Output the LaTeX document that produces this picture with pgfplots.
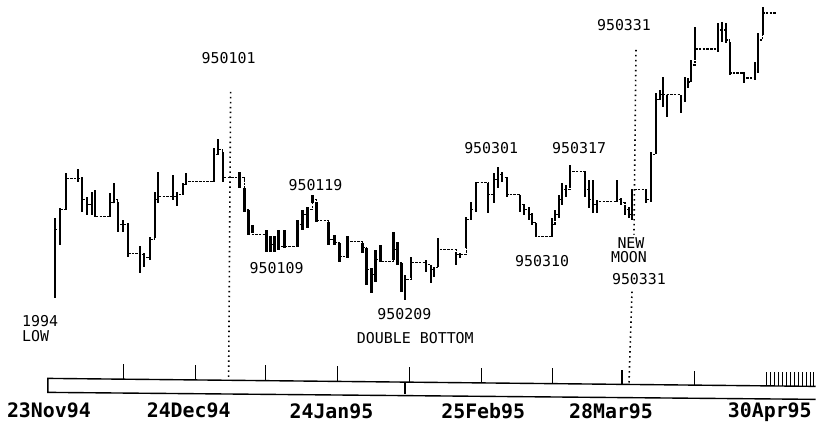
\documentclass[border=0pt]{standalone}
\usepackage{fontspec}
\setmonofont{DejaVu Sans Mono}
\usepackage{pgfplots}
\usepackage{pgfplotstable}
\pgfplotsset{compat=1.18}
\pgfplotstableread{
x h l c
55 218 298 230
60 208 245 210
66 173 210 179
78 169 182 179
82 177 212 200
87 197 215 205
92 192 215 200
95 190 217 217
110 193 217 203
114 183 203 200
118 202 232 225
123 220 232 225
128 223 257 254
140 246 273 255
144 253 267 258
150 237 260 240
155 192 238 200
158 172 203 197
173 175 200 197
177 192 206 195
183 183 195 185
186 173 185 182
214 148 182 155
218 139 155 150
223 152 182 178
240 172 188 178
245 188 212 210
249 210 235 235
253 225 233 235
267 230 252 240
271 236 252 245
275 236 252 240
279 230 250 247
285 230 248 247
298 220 247 225
303 210 230 215
308 207 228 210
313 195 203 200
317 202 222 221
329 222 245 240
335 235 245 243
340 243 262 257
348 236 258 242
363 243 253 248
367 248 285 270
372 268 293 275
376 250 282 260
381 245 262 262
394 232 260 250
398 242 265 263
402 263 292 285
406 275 300 280
412 257 278 263
427 260 272 265
432 265 283 270
435 267 277 268
439 238 267 250
457 252 265 255
461 253 258 255
467 217 248 220
472 202 220 210
477 182 212 183
489 183 213 195
495 173 203 180
499 167 188 175
503 172 182 178
508 177 197 195
521 195 212 205
525 205 215 210
530 207 220 215
533 213 225 223
537 223 237 237
553 218 237 225
556 210 218 215
560 195 218 200
563 183 205 190
567 185 197 190
571 165 188 172
586 172 197 190
590 180 208 200
594 180 213 205
598 200 213 202
618 180 202 200
622 198 205 203
626 205 215 210
630 207 218 215
633 190 220 190
647 190 203 200
652 152 202 155
657 93 153 100
661 90 100 95
664 77 107 95
668 95 117 95
682 95 113 100
686 77 102 85
689 78 88 82
692 60 82 65
696 27 60 49
719 23 52 30
723 22 42 30
727 23 43 40
731 42 75 73
745 72 83 78
756 62 80 70
759 33 73 40
764 7 35 13
777 13 13 13
}\bars
\pgfplotstableread{
x h l
124 365 380
196 366 381
266 366 381
338 367 382
410 368 383
482 369 384
553 369 384
623 371 385
696 372 386
768 373 387
772 373 387
776 373 387
780 373 387
784 373 387
788 373 387
792 373 387
796 373 387
800 373 387
804 373 387
808 373 387
812 373 387
815 373 387
}\ticksdata
\begin{document}
\begin{tikzpicture}
\begin{axis}[
  width=817bp, height=429bp, scale only axis,
  xmin=0, xmax=817, ymin=0, ymax=429, y dir=reverse,
  axis line style={draw=none}, ticks=none, clip=false,
  unbounded coords=jump,
]
% price bars (high-low)
\addplot[draw=none, mark=none, error bars/.cd, y dir=both, y explicit, error mark=none,
  error bar style={draw=black, solid, line width=2.3pt}]
  table[x=x, y expr={(\thisrow{h}+\thisrow{l})/2}, y error expr={(\thisrow{l}-\thisrow{h})/2}] {\bars};
% close connectors
\addplot[const plot mark left, black, line width=1.3pt, dash pattern=on 2.5pt off 1.2pt]
  table[x=x, y=c] {\bars};
% dotted event lines
\addplot[black, line width=1.6pt, dash pattern=on 1.5pt off 3.5pt] coordinates {(231,92) (229,380)};
\addplot[black, line width=1.6pt, dash pattern=on 1.5pt off 3.5pt] coordinates {(637,50) (635,235) (635,nan) (633,292) (630,384)};
% date strip
\addplot[black, line width=1.4pt] coordinates {(817,387) (48,379) (48,393) (817,400)};
\addplot[black, line width=2.2pt] coordinates {(406,383) (406,395)};
\addplot[draw=none, mark=none, error bars/.cd, y dir=both, y explicit, error mark=none,
  error bar style={draw=black, solid, line width=1.2pt}]
  table[x=x, y expr={(\thisrow{h}+\thisrow{l})/2}, y error expr={(\thisrow{l}-\thisrow{h})/2}] {\ticksdata};
% labels
\begin{scope}[every node/.style={font=\fontsize{15}{16}\selectfont\ttfamily, inner sep=0pt}]
\node at (axis cs:229,58) {950101};
\node at (axis cs:625,25) {950331};
\node at (axis cs:316,185) {950119};
\node at (axis cs:277,268) {950109};
\node at (axis cs:405,315) {950209};
\node at (axis cs:416,339) {DOUBLE BOTTOM};
\node at (axis cs:492,148) {950301};
\node at (axis cs:580,148) {950317};
\node at (axis cs:543,261) {950310};
\node at (axis cs:632,243) {NEW};
\node at (axis cs:630,257) {MOON};
\node at (axis cs:640,280) {950331};
\node[anchor=west] at (axis cs:22,322) {1994};
\node[anchor=west] at (axis cs:22,337) {LOW};
\end{scope}
\begin{scope}[every node/.style={font=\fontsize{20}{22}\selectfont\ttfamily\bfseries, inner sep=0pt}]
\node at (axis cs:49,411) {23Nov94};
\node at (axis cs:189,411) {24Dec94};
\node at (axis cs:332,412) {24Jan95};
\node at (axis cs:484,412) {25Feb95};
\node at (axis cs:612,412) {28Mar95};
\node at (axis cs:771,413) {30Apr95};
\end{scope}
\end{axis}
\end{tikzpicture}
\end{document}
